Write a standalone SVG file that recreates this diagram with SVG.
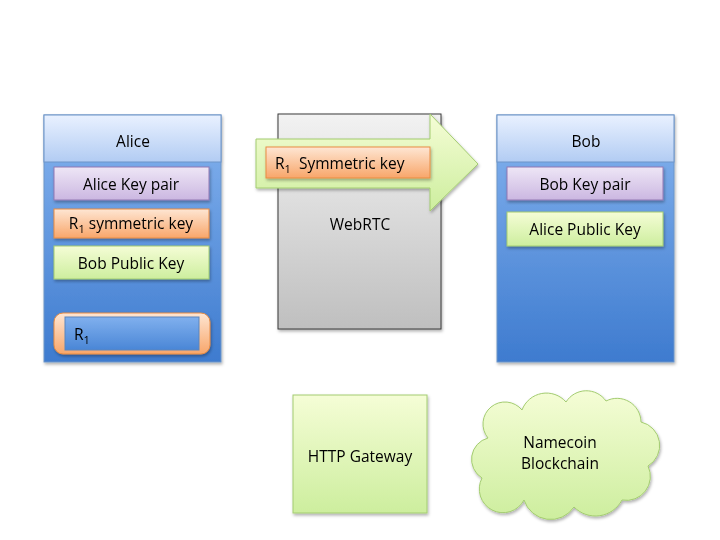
<svg xmlns="http://www.w3.org/2000/svg" width="720" height="540" viewBox="0 0 720 540">
<defs>
<linearGradient id="gBody" x1="0" y1="0" x2="0" y2="1"><stop offset="0" stop-color="#86b4ef"/><stop offset="1" stop-color="#3e7bcf"/></linearGradient>
<linearGradient id="gHead" x1="0" y1="0" x2="0" y2="1"><stop offset="0" stop-color="#e9f1ff"/><stop offset="1" stop-color="#b2ccf3"/></linearGradient>
<linearGradient id="gPurple" x1="0" y1="0" x2="0" y2="1"><stop offset="0" stop-color="#eee6f6"/><stop offset="1" stop-color="#cbb7e1"/></linearGradient>
<linearGradient id="gOrange" x1="0" y1="0" x2="0" y2="1"><stop offset="0" stop-color="#fee6d3"/><stop offset="1" stop-color="#f8a66a"/></linearGradient>
<linearGradient id="gGreen" x1="0" y1="0" x2="0" y2="1"><stop offset="0" stop-color="#f5fdd6"/><stop offset="1" stop-color="#cdee9e"/></linearGradient>
<linearGradient id="gGray" x1="0" y1="0" x2="0" y2="1"><stop offset="0" stop-color="#f2f2f2"/><stop offset="1" stop-color="#bfbfbf"/></linearGradient>
<linearGradient id="gInner" x1="0" y1="0" x2="0" y2="1"><stop offset="0" stop-color="#80b0ee"/><stop offset="1" stop-color="#4a86d6"/></linearGradient>
<filter id="sh" x="-10%" y="-10%" width="125%" height="125%"><feDropShadow dx="1" dy="2" stdDeviation="1.5" flood-color="#000" flood-opacity="0.3"/></filter>
</defs>
<style>
text{font-family:"Open Sans","Liberation Sans",sans-serif;font-size:15.5px;fill:#000;text-anchor:middle}
.sub{font-size:11px}
.panel{fill:url(#gBody);stroke:#6d95c8;stroke-width:1}
.head{fill:url(#gHead);stroke:#6d95c8;stroke-width:1}
.purple{fill:url(#gPurple);stroke:#9279b3;stroke-width:1}
.orange{fill:url(#gOrange);stroke:#e98c42;stroke-width:1}
.green{fill:url(#gGreen);stroke:#a3cc70;stroke-width:1}
</style>
<g id="alice" filter="url(#sh)">
<rect class="panel" x="44" y="115" width="177" height="247"/>
<rect class="head" x="44" y="115" width="177" height="47"/>
<text x="133" y="147">Alice</text>
</g>
<g id="alice-keypair" filter="url(#sh)">
<rect class="purple" x="54" y="167" width="155" height="33"/>
<text x="131" y="190">Alice Key pair</text>
</g>
<g id="alice-r1key" filter="url(#sh)">
<rect class="orange" x="54" y="209" width="155" height="29"/>
<text x="131" y="229">R<tspan class="sub" dy="4">1</tspan><tspan dy="-4"> symmetric key</tspan></text>
</g>
<g id="alice-bobpub" filter="url(#sh)">
<rect class="green" x="54" y="246" width="155" height="33"/>
<text x="131" y="269">Bob Public Key</text>
</g>
<g id="alice-r1" filter="url(#sh)">
<rect class="orange" x="54" y="313" width="156" height="41" rx="9"/>
<rect x="65" y="317" width="134" height="33" fill="url(#gInner)" stroke="#5a85bd"/>
<text x="74" y="340" style="text-anchor:start">R<tspan class="sub" dy="4">1</tspan></text>
</g>
<g id="webrtc" filter="url(#sh)">
<rect x="278" y="114" width="163" height="215" fill="url(#gGray)" stroke="#3a3a3a"/>
<text x="360" y="230">WebRTC</text>
</g>
<g id="connectors">
<g id="arrow" filter="url(#sh)">
<path d="M256,139 H430 V114 L478,164 L430,211 V188 H256 Z" fill="url(#gGreen)" stroke="#a3cc70"/>
</g>
</g>
<g id="arrow-r1key" filter="url(#sh)">
<rect class="orange" x="266" y="147" width="164" height="31"/>
<text x="275" y="169" style="text-anchor:start" xml:space="preserve">R<tspan class="sub" dy="4">1</tspan><tspan dy="-4">  Symmetric key</tspan></text>
</g>
<g id="bob" filter="url(#sh)">
<rect class="panel" x="497" y="115" width="177" height="247"/>
<rect class="head" x="497" y="115" width="177" height="47"/>
<text x="586" y="147">Bob</text>
</g>
<g id="bob-keypair" filter="url(#sh)">
<rect class="purple" x="507" y="167" width="156" height="33"/>
<text x="585" y="190">Bob Key pair</text>
</g>
<g id="bob-alicepub" filter="url(#sh)">
<rect class="green" x="507" y="212" width="156" height="34"/>
<text x="585" y="235">Alice Public Key</text>
</g>
<g id="http-gateway" filter="url(#sh)">
<rect class="green" x="293" y="395" width="134" height="118"/>
<text x="360" y="462">HTTP Gateway</text>
</g>
<g id="namecoin" filter="url(#sh)">
<path class="green" d="M488,438 A22,22 0 0 1 522,410 A26,26 0 0 1 566,402 A24,24 0 0 1 606,401 A24,24 0 0 1 641,422 A24,24 0 0 1 648,466 A24,24 0 0 1 622,500 A30,30 0 0 1 574,507 A28,28 0 0 1 524,500 A22,22 0 0 1 482,478 A22,22 0 0 1 488,438 Z"/>
<text x="560" y="448">Namecoin</text>
<text x="560" y="469">Blockchain</text>
</g>
</svg>
